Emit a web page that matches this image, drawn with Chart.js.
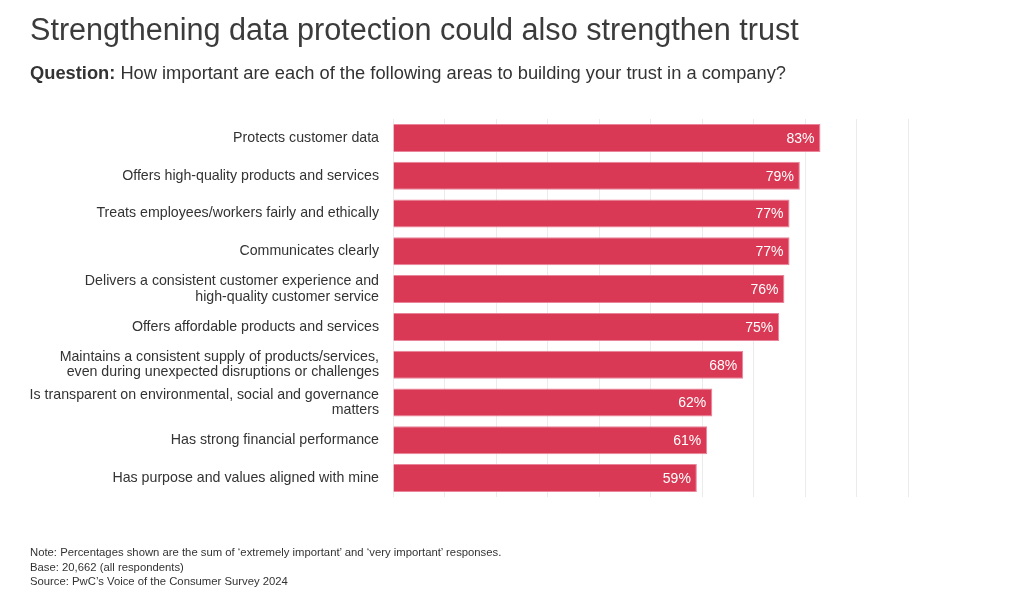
<!DOCTYPE html>
<html>
<head>
<meta charset="utf-8">
<script src="https://cdn.jsdelivr.net/npm/chart.js@4.4.1/dist/chart.umd.min.js"></script>
<style>
  html, body { margin: 0; padding: 0; background: #fff; }
  body { width: 1018px; height: 600px; position: relative; overflow: hidden; font-family: "Liberation Sans", Arial, sans-serif; color: #333; }
  #title { position: absolute; left: 30px; top: 12px; font-size: 30.6px; color: #3b3b3b; white-space: nowrap; }
  #sub { position: absolute; left: 30px; top: 62px; font-size: 18.3px; color: #333; white-space: nowrap; }
  #notes { position: absolute; left: 30px; top: 545px; font-size: 11.3px; line-height: 14.5px; color: #333; }
  #wrap { position: absolute; left: 0; top: 0; width: 1018px; height: 600px; }
</style>
</head>
<body>
<div id="wrap"><canvas id="c" width="1018" height="600"></canvas></div>
<div id="title">Strengthening data protection could also strengthen trust</div>
<div id="sub"><b>Question:</b> How important are each of the following areas to building your trust in a company?</div>
<div id="notes">Note: Percentages shown are the sum of ‘extremely important’ and ‘very important’ responses.<br>Base: 20,662 (all respondents)<br>Source: PwC’s Voice of the Consumer Survey 2024</div>
<script>
const categories = [
  ["Protects customer data"],
  ["Offers high-quality products and services"],
  ["Treats employees/workers fairly and ethically"],
  ["Communicates clearly"],
  ["Delivers a consistent customer experience and", "high-quality customer service"],
  ["Offers affordable products and services"],
  ["Maintains a consistent supply of products/services,", "even during unexpected disruptions or challenges"],
  ["Is transparent on environmental, social and governance", "matters"],
  ["Has strong financial performance"],
  ["Has purpose and values aligned with mine"]
];
const values = [83, 79, 77, 77, 76, 75, 68, 62, 61, 59];
const valueLabels = ["83%", "79%", "77%", "77%", "76%", "75%", "68%", "62%", "61%", "59%"];

const barLabels = {
  id: 'barLabels',
  afterDatasetsDraw(chart) {
    const ctx = chart.ctx;
    const meta = chart.getDatasetMeta(0);
    ctx.save();
    ctx.fillStyle = '#ffffff';
    ctx.font = '14px "Liberation Sans", Arial, sans-serif';
    ctx.textAlign = 'right';
    ctx.textBaseline = 'middle';
    meta.data.forEach((bar, i) => {
      ctx.fillText(valueLabels[i], bar.x - 6, bar.y + 1);
    });
    ctx.restore();
  }
};

new Chart(document.getElementById('c'), {
  type: 'bar',
  data: {
    labels: categories,
    datasets: [{
      data: values,
      backgroundColor: '#d93954',
      borderColor: '#e9849a',
      borderWidth: 1,
      borderSkipped: 'start',
      barPercentage: 0.74,
      categoryPercentage: 1.0
    }]
  },
  options: {
    indexAxis: 'y',
    responsive: false,
    animation: false,
    events: [],
    layout: { padding: { top: 119, bottom: 103, right: 110, left: 0 } },
    plugins: { legend: { display: false }, tooltip: { enabled: false } },
    scales: {
      x: {
        min: 0, max: 100,
        ticks: { display: false, stepSize: 10 },
        grid: { color: '#ebebeb', lineWidth: 1, drawTicks: false },
        border: { display: false }
      },
      y: {
        afterFit(scale) { scale.width = 393; },
        ticks: {
          color: '#333',
          font: { family: '"Liberation Sans", Arial, sans-serif', size: 14.2, lineHeight: 1.06 },
          padding: 14,
          crossAlign: 'near'
        },
        grid: { display: false, drawTicks: false },
        border: { display: false }
      }
    }
  },
  plugins: [barLabels]
});
</script>
</body>
</html>
